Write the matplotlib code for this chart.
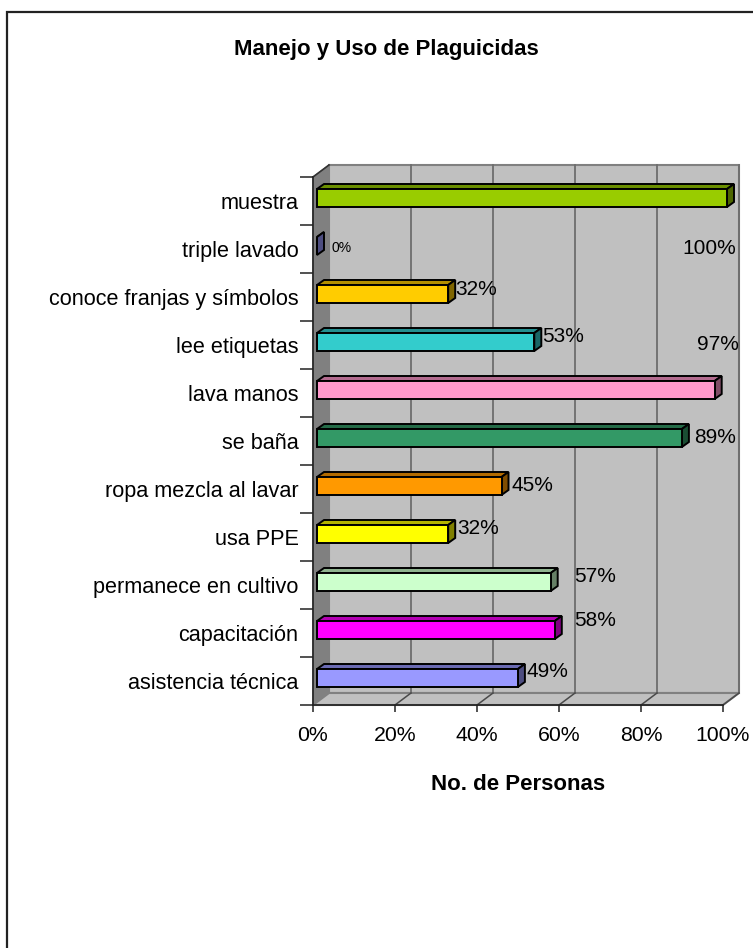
import numpy as np
import matplotlib
matplotlib.use("Agg")
import matplotlib.pyplot as plt
import matplotlib.colors as cols
from matplotlib.patches import Polygon, Rectangle

plt.rcParams['font.family'] = ['Liberation Sans', 'DejaVu Sans']

# data, bottom to top
categorias = ["asistencia técnica", "capacitación", "permanece en cultivo", "usa PPE",
              "ropa mezcla al lavar", "se baña", "lava manos", "lee etiquetas",
              "conoce franjas y símbolos", "triple lavado", "muestra"]
valores = [49, 58, 57, 32, 45, 89, 97, 53, 32, 0, 100]
etiquetas = ["49%", "58%", "57%", "32%", "45%", "89%", "97%", "53%", "32%", "0%", "100%"]
colores = ["#9999FF", "#FF00FF", "#CCFFCC", "#FFFF00", "#FF9900", "#339966",
           "#FF99CC", "#33CCCC", "#FFCC00", "#9999FF", "#99CC00"]
xticks = [0, 20, 40, 60, 80, 100]
xticklabels = ["0%", "20%", "40%", "60%", "80%", "100%"]

# excel put some labels in odd places (offset from bar end, in % / category units)
lab_dx = [0.5, 3.0, 4.0, 0.4, 0.8, 1.2, -6.0, 0.2, -0.1, 1.9, -12.5]
lab_dy = [0.19, 0.25, 0.17, 0.17, 0.08, 0.08, 1.0, 0.17, 0.15, 0.02, -0.98]

# 3d look (pixel offsets turned into data units)
px_x = 4.1      # px per %
px_y = 48.0     # px per category
wall_dx, wall_dy = 16 / px_x, 12 / px_y
bar_dx, bar_dy = 4 / px_x, 3 / px_y
dep_dx, dep_dy = 7 / px_x, 5 / px_y
alto = 18 / px_y

fig = plt.figure(figsize=(7.53, 9.48), dpi=100)
W, H = 753, 948
ax = fig.add_axes([313 / W, 1 - 705 / H, 410 / W, 528 / H])
ax.set_facecolor("none")
ax.set_xlim(0, 100)
ax.set_ylim(-0.5, 10.5)
n = len(categorias)
y0, y1 = -0.5, n - 0.5

# back wall, left wall, floor
ax.add_patch(Rectangle((wall_dx, y0 + wall_dy), 100, n, facecolor="#C0C0C0",
                       edgecolor="#808080", lw=1.5, clip_on=False, zorder=0))
ax.add_patch(Polygon([(0, y0), (0, y1), (wall_dx, y1 + wall_dy), (wall_dx, y0 + wall_dy)],
                     closed=True, facecolor="#808080", edgecolor="#808080", lw=1,
                     clip_on=False, zorder=0.5))
ax.add_patch(Polygon([(0, y0), (100, y0), (100 + wall_dx, y0 + wall_dy), (wall_dx, y0 + wall_dy)],
                     closed=True, facecolor="#C0C0C0", edgecolor="#808080", lw=1.5,
                     clip_on=False, zorder=0.5))
ax.plot([0, wall_dx], [y1, y1 + wall_dy], color="#333333", lw=1.2, clip_on=False, zorder=1)
for xv in xticks[1:]:
    ax.plot([xv + wall_dx] * 2, [y0 + wall_dy, y1 + wall_dy], color="#6E6E6E", lw=1.3,
            clip_on=False, zorder=0.8)
    ax.plot([xv, xv + wall_dx], [y0, y0 + wall_dy], color="#4A4A4A", lw=1.1,
            clip_on=False, zorder=0.8)

# bars
ys = np.arange(n)
for i, (v, c) in enumerate(zip(valores, colores)):
    rgb = np.array(cols.to_rgb(c))
    yb = ys[i] + bar_dy - alto / 2
    yt = ys[i] + bar_dy + alto / 2
    xa, xb = bar_dx, bar_dx + v
    ax.add_patch(Polygon([(xa, yt), (xb, yt), (xb + dep_dx, yt + dep_dy), (xa + dep_dx, yt + dep_dy)],
                         closed=True, facecolor=rgb * 0.7, edgecolor="black", lw=1.4,
                         zorder=3, clip_on=False))
    ax.add_patch(Polygon([(xb, yb), (xb, yt), (xb + dep_dx, yt + dep_dy), (xb + dep_dx, yb + dep_dy)],
                         closed=True, facecolor=rgb * 0.5, edgecolor="black", lw=1.4,
                         zorder=3, clip_on=False))
ax.barh(ys + bar_dy, valores, height=alto, left=bar_dx, color=colores,
        edgecolor="black", linewidth=1.4, zorder=4, clip_on=False)

# data labels
for i, v in enumerate(valores):
    fs = 10 if v == 0 else 15
    ax.text(v + bar_dx + dep_dx + lab_dx[i], ys[i] + lab_dy[i], etiquetas[i],
            fontsize=fs, ha="left", va="center", color="black", zorder=5, clip_on=False)

# axes
for s in ["top", "right"]:
    ax.spines[s].set_visible(False)
for s in ["left", "bottom"]:
    ax.spines[s].set_color("#222222")
    ax.spines[s].set_linewidth(1.2)
    ax.spines[s].set_zorder(2)
ax.set_yticks(ys)
ax.set_yticklabels(categorias, fontsize=15.6)
ax.set_yticks(np.arange(n + 1) - 0.5, minor=True)
ax.tick_params(axis="y", which="major", length=0, pad=10.5)
ax.tick_params(axis="y", which="minor", length=9.5, width=1.1, color="#222222")
ax.set_xticks(xticks)
ax.set_xticklabels(xticklabels, fontsize=15.3)
ax.tick_params(axis="x", length=5, width=1.1, color="#222222", pad=10)
ax.set_xlabel("No. de Personas", fontsize=16, fontweight="bold", labelpad=21)

fig.text(386 / W, 1 - 50 / H, "Manejo y Uso de Plaguicidas", fontsize=16,
         fontweight="bold", ha="center", va="center")

# chart frame
fig.add_artist(Rectangle((7 / W, -0.1), 1.2, 1 - 12 / H + 0.1, transform=fig.transFigure,
                         facecolor="none", edgecolor="#222222", lw=1.6))

fig.savefig("out.png", dpi=100)
